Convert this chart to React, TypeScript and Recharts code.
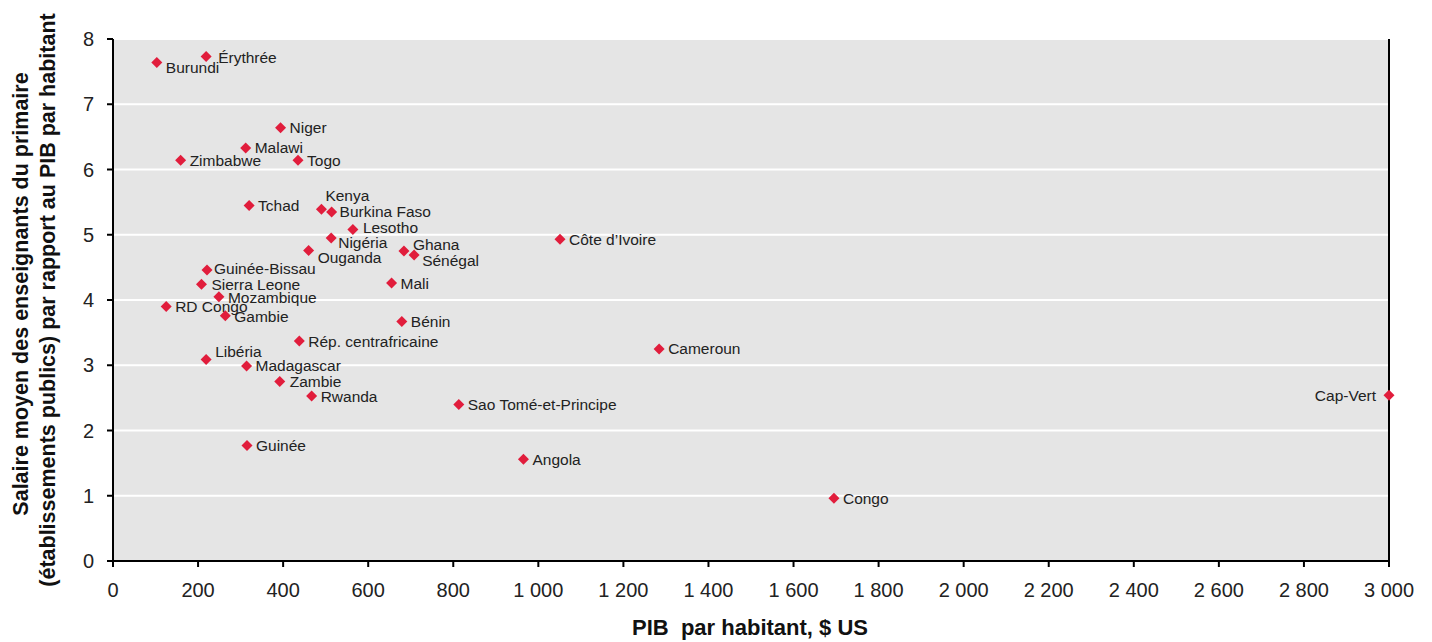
import {
  CartesianGrid,
  Label,
  ReferenceLine,
  Scatter,
  ScatterChart,
  XAxis,
  YAxis,
} from "recharts";

// Pays, PIB par habitant ($ US) et ratio salaire enseignant / PIB par habitant
const COUNTRIES = [
  "Burundi", "Érythrée", "Niger", "Malawi", "Zimbabwe", "Togo", "Tchad",
  "Kenya", "Burkina Faso", "Lesotho", "Nigéria", "Ouganda", "Ghana",
  "Sénégal", "Côte d’Ivoire", "Mali", "Guinée-Bissau", "Sierra Leone",
  "Mozambique", "RD Congo", "Gambie", "Bénin", "Rép. centrafricaine",
  "Cameroun", "Libéria", "Madagascar", "Zambie", "Rwanda",
  "Sao Tomé-et-Principe", "Cap-Vert", "Guinée", "Angola", "Congo",
];

const GDP_PER_CAPITA = [
  103, 219, 394, 312, 159, 435, 320,
  490, 514, 564, 513, 460, 684,
  708, 1051, 655, 221, 208,
  249, 125, 264, 679, 438,
  1284, 219, 314, 392, 467,
  813, 3000, 315, 965, 1695,
];

const SALARY_RATIO = [
  7.64, 7.73, 6.64, 6.33, 6.14, 6.14, 5.45,
  5.39, 5.35, 5.08, 4.95, 4.76, 4.75,
  4.69, 4.93, 4.26, 4.46, 4.24,
  4.05, 3.9, 3.76, 3.67, 3.37,
  3.25, 3.09, 2.99, 2.75, 2.53,
  2.4, 2.54, 1.77, 1.56, 0.96,
];

const X_TICKS = [0, 200, 400, 600, 800, 1000, 1200, 1400, 1600, 1800, 2000, 2200, 2400, 2600, 2800, 3000];
const Y_TICKS = [0, 1, 2, 3, 4, 5, 6, 7, 8];

// label placement tweaks to avoid overlaps: [dx, dy, anchor]
const LABEL_NUDGE: Record<string, [number, number, "start" | "end"]> = {
  "Burundi": [9, 5, "start"],
  "Érythrée": [12, 1, "start"],
  "Kenya": [4, -14, "start"],
  "Burkina Faso": [8, 0, "start"],
  "Lesotho": [10, -2, "start"],
  "Nigéria": [7, 4, "start"],
  "Ouganda": [9, 7, "start"],
  "Ghana": [9, -7, "start"],
  "Sénégal": [8, 6, "start"],
  "Guinée-Bissau": [7, -1, "start"],
  "Sierra Leone": [10, 0, "start"],
  "Mozambique": [9, 1, "start"],
  "Gambie": [9, 1, "start"],
  "Libéria": [9, -8, "start"],
  "Rwanda": [9, 1, "start"],
  "Zambie": [10, 0, "start"],
  "Cap-Vert": [-13, 0, "end"],
};

const FONT = '"Liberation Sans", Arial, Helvetica, sans-serif';
const MARKER_COLOR = "#e11d3c";
const TEXT_COLOR = "#222";

const data = COUNTRIES.map((name, i) => ({
  name,
  x: GDP_PER_CAPITA[i],
  y: SALARY_RATIO[i],
}));

const formatThousands = (v: number) =>
  v >= 1000 ? `${Math.floor(v / 1000)} ${String(v % 1000).padStart(3, "0")}` : String(v);

function DiamondWithLabel(props: any) {
  const { cx, cy, payload } = props;
  const r = 5.5;
  const [dx, dy, anchor] = LABEL_NUDGE[payload.name] ?? [9, 0, "start"];
  return (
    <g>
      <polygon
        points={`${cx},${cy - r} ${cx + r},${cy} ${cx},${cy + r} ${cx - r},${cy}`}
        fill={MARKER_COLOR}
      />
      <text
        x={cx + dx}
        y={cy + dy}
        dominantBaseline="central"
        textAnchor={anchor}
        fontSize={15.5}
        fontFamily={FONT}
        fill={TEXT_COLOR}
      >
        {payload.name}
      </text>
    </g>
  );
}

function YTitle() {
  return (
    <g fontFamily={FONT} fontWeight="bold" fontSize={21.5} fill="#111">
      <text x={21} y={294} transform="rotate(-90 21 294)" textAnchor="middle" dominantBaseline="central">
        Salaire moyen des enseignants du primaire
      </text>
      <text x={48} y={300} transform="rotate(-90 48 300)" textAnchor="middle" dominantBaseline="central">
        (établissements publics) par rapport au PIB par habitant
      </text>
    </g>
  );
}

function XTitle() {
  return (
    <text
      x={750}
      y={627}
      textAnchor="middle"
      dominantBaseline="central"
      fontFamily={FONT}
      fontWeight="bold"
      fontSize={22}
      fill="#111"
      style={{ whiteSpace: "pre" }}
    >
      {"PIB  par habitant, $ US"}
    </text>
  );
}

export default function App() {
  return (
    <div style={{ position: "absolute", left: 0, top: 0, width: 1432, height: 642, background: "#fff" }}>
      <ScatterChart
        width={1432}
        height={642}
        margin={{ top: 39, right: 43, bottom: 21, left: 53 }}
        style={{ fontFamily: FONT }}
      >
        <CartesianGrid
          vertical={false}
          stroke="#fff"
          strokeWidth={2}
          fill="#e5e5e5"
          fillOpacity={1}
        />
        <XAxis
          type="number"
          dataKey="x"
          domain={[0, 3000]}
          ticks={X_TICKS}
          tickFormatter={formatThousands}
          height={60}
          axisLine={{ stroke: "#000", strokeWidth: 2 }}
          tickLine={{ stroke: "#000", strokeWidth: 2 }}
          tickSize={6}
          tickMargin={16}
          tick={{ fontSize: 20, fill: TEXT_COLOR }}
          interval={0}
        >
          <Label content={() => <XTitle />} />
        </XAxis>
        <YAxis
          type="number"
          dataKey="y"
          domain={[0, 8]}
          ticks={Y_TICKS}
          width={60}
          axisLine={{ stroke: "#000", strokeWidth: 2 }}
          tickLine={{ stroke: "#000", strokeWidth: 2 }}
          tickSize={6}
          tickMargin={13}
          tick={{ fontSize: 20, fill: TEXT_COLOR }}
          interval={0}
        >
          <Label content={() => <YTitle />} />
        </YAxis>
        <ReferenceLine x={3000} stroke="#000" strokeWidth={2} />
        <Scatter
          data={data}
          shape={DiamondWithLabel}
          isAnimationActive={false}
        />
      </ScatterChart>
    </div>
  );
}
